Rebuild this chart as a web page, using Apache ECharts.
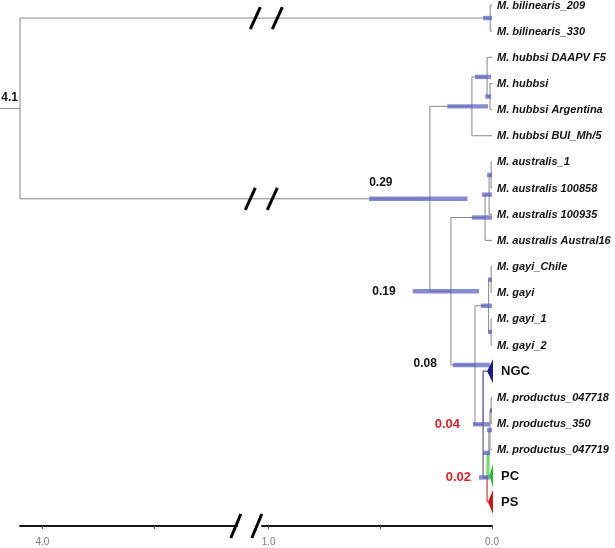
<!DOCTYPE html>
<html><head><meta charset="utf-8">
<script src="https://cdn.jsdelivr.net/npm/echarts@6/dist/echarts.min.js"></script>
<style>html,body{margin:0;padding:0;background:#fff}#c{width:615px;height:548px}</style>
</head><body><div id="c"></div>
<script>
// ---- DATA ----
const tipLabels = ['M. bilinearis_209','M. bilinearis_330','M. hubbsi DAAPV F5','M. hubbsi','M. hubbsi Argentina','M. hubbsi BUI_Mh/5','M. australis_1','M. australis 100858','M. australis 100935','M. australis Austral16','M. gayi_Chile','M. gayi','M. gayi_1','M. gayi_2','NGC','M. productus_047718','M. productus_350','M. productus_047719','PC','PS'];
const collapsedTips = [14, 18, 19];
const collapsedDepths = [0.022, 0.012, 0.018];

const nodeNames    = ['root','Bi','A','H','H1','H2','B','Au','Au1','Au2','C','G','G1','G2','D','E','P3','P2','P1'];
const nodeChildren = [['Bi','A'],[0,1],['H','B'],['H1',5],[2,'H2'],[3,4],['Au','C'],['Au1',9],['Au2',8],[6,7],['G','D'],['G1','G2'],[10,11],[12,13],[14,'E'],['P3',19],['P2',18],['P1',17],[15,16]];
const nodeAges     = [4.1,0.008,0.278,0.09,0.022,0.009,0.184,0.031,0.013,0.004,0.076,0.015,0.004,0.004,0.04,0.022,0.014,0.009,0.004];
const hpdLow       = [null,0,0.11,0.018,0.004,0.004,0.058,0,0,0,0.01,0,0,0,0.01,0.01,0.008,0,0];
const hpdHigh      = [null,0.04,0.55,0.2,0.076,0.03,0.355,0.09,0.045,0.022,0.175,0.05,0.018,0.018,0.085,0.058,0.04,0.022,0.01];
const nodeLabels   = ['4.1','','0.29','','','','0.19','','','','0.08','','','','0.04','0.02','','',''];

const axisTickValues  = [4.0, 3.5, 1.0, 0.5, 0.0];
const axisLabelValues = [4.0, 1.0, 0.0];
const axisBreak = [1.03, 3.13];
const brokenBranches = ['Bi', 'A'];

// ---- STYLE ----
const BRANCH = '#858585';
const cladeColor = {14: '#1b1b8a', 18: '#22c022', 19: '#d41414', P3: '#22c022', E: '#444444'};
const collapsedFill = {14: '#1b1b8a', 18: '#22c022', 19: '#d41414'};
const labelStyle = {
  root: {anchor: 'node', align: 'right', dx: -2, dy: -11, color: '#111', size: 12},
  A: {anchor: 'hi', align: 'left', dx: 0, dy: -16, color: '#111', size: 12},
  B: {anchor: 'hi', align: 'right', dx: -17, dy: 0, color: '#111', size: 12},
  C: {anchor: 'hi', align: 'right', dx: -16, dy: -1, color: '#111', size: 12},
  D: {anchor: 'hi', align: 'right', dx: -13, dy: 0, color: '#e0202a', size: 13},
  E: {anchor: 'hi', align: 'right', dx: -8, dy: 0, color: '#e0202a', size: 13}
};
const FONT = '"Liberation Sans", Arial, sans-serif';

// ---- TREE LAYOUT (data units) ----
const idx = n => nodeNames.indexOf(n);
function isTip(r) { return typeof r === 'number'; }
function ageOf(r) {
  if (isTip(r)) { const k = collapsedTips.indexOf(r); return k >= 0 ? collapsedDepths[k] : 0; }
  return nodeAges[idx(r)];
}
const yCache = {};
function yOf(r) {
  if (isTip(r)) return r;
  if (yCache[r] !== undefined) return yCache[r];
  const ch = nodeChildren[idx(r)];
  const v = ch.reduce((s, c) => s + yOf(c), 0) / ch.length;
  yCache[r] = v; return v;
}
function colorOf(r) { return cladeColor[r] || BRANCH; }

const segData = [], segColors = [];
nodeNames.forEach((n, i) => {
  const a = nodeAges[i], y = yOf(n);
  nodeChildren[i].forEach(c => {
    const yc = yOf(c), col = colorOf(c);
    segData.push([a, y, a, yc]); segColors.push(col);
    segData.push([a, yc, ageOf(c), yc]); segColors.push(col);
  });
});
const hpdData = [];
nodeNames.forEach((n, i) => { if (hpdHigh[i] !== null) hpdData.push([hpdLow[i], hpdHigh[i], yOf(n)]); });
const tipData = tipLabels.map((t, i) => [0, i, i]);
const triData = collapsedTips.map((t, k) => [collapsedDepths[k], t, t]);
const nodeLabelData = [];
nodeNames.forEach((n, i) => { if (nodeLabels[i]) nodeLabelData.push([nodeAges[i], yOf(n), i]); });
const breakData = brokenBranches.map(n => [axisBreak[0], axisBreak[1], yOf(n), 0]);
const Y_MAX = 19.92;
breakData.push([axisBreak[0], axisBreak[1], Y_MAX, 1]);

const chart = echarts.init(document.getElementById('c'));
chart.setOption({
  animation: false,
  backgroundColor: '#fff',
  grid: {left: 20, right: 123, top: 5, bottom: 22},
  xAxis: {
    type: 'value', inverse: true, min: 0, max: 4.1,
    breaks: [{start: axisBreak[0], end: axisBreak[1], gap: 0.113}],
    breakArea: {show: false},
    axisLine: {show: true, onZero: false, lineStyle: {color: '#151515', width: 2}},
    axisTick: {show: true, customValues: axisTickValues, length: 3, lineStyle: {color: '#555', width: 1}},
    axisLabel: {show: true, customValues: axisLabelValues, formatter: v => Number(v).toFixed(1),
      color: '#7a7a7a', fontSize: 10, fontFamily: FONT, margin: 11},
    splitLine: {show: false}
  },
  yAxis: {type: 'value', inverse: true, min: 0, max: Y_MAX, show: false, splitLine: {show: false}},
  series: [
    { type: 'custom', z: 2, data: segData, encode: {x: [0, 2], y: [1, 3]},
      renderItem: (p, api) => {
        const a = api.coord([api.value(0), api.value(1)]);
        const b = api.coord([api.value(2), api.value(3)]);
        return {type: 'line', shape: {x1: a[0], y1: a[1], x2: b[0], y2: b[1]},
          style: {stroke: segColors[p.dataIndex], lineWidth: 1}};
      }},
    { type: 'custom', z: 2, data: [[nodeAges[0], yOf('root')]], encode: {x: 0, y: 1},
      renderItem: (p, api) => {
        const a = api.coord([api.value(0), api.value(1)]);
        return {type: 'line', shape: {x1: a[0] - 20, y1: a[1], x2: a[0], y2: a[1]},
          style: {stroke: BRANCH, lineWidth: 1}};
      }},
    { type: 'custom', z: 3, data: hpdData, encode: {x: [0, 1], y: 2},
      renderItem: (p, api) => {
        const a = api.coord([api.value(1), api.value(2)]);
        const b = api.coord([api.value(0), api.value(2)]);
        return {type: 'rect', shape: {x: a[0], y: a[1] - 2.2, width: b[0] - a[0], height: 4.4},
          style: {fill: 'rgba(88,94,192,0.72)'}};
      }},
    { type: 'custom', z: 4, data: triData, encode: {x: 0, y: 1},
      renderItem: (p, api) => {
        const apex = api.coord([api.value(0), api.value(1)]);
        const t = api.coord([0, api.value(1) - 0.46]);
        const b = api.coord([0, api.value(1) + 0.46]);
        return {type: 'polygon', shape: {points: [apex, [t[0] + 1, t[1]], [b[0] + 1, b[1]]]},
          style: {fill: collapsedFill[api.value(2)]}};
      }},
    { type: 'custom', z: 5, data: tipData, encode: {x: 0, y: 1},
      renderItem: (p, api) => {
        const i = api.value(2);
        const a = api.coord([0, api.value(1)]);
        const coll = collapsedTips.indexOf(i) >= 0;
        return {type: 'text', x: a[0] + (coll ? 9 : 5), y: a[1] + 0.5,
          style: {text: tipLabels[i], fill: '#111', align: 'left', verticalAlign: 'middle',
            font: coll ? 'bold 13px ' + FONT : 'italic bold 11px ' + FONT}};
      }},
    { type: 'custom', z: 5, data: nodeLabelData, encode: {x: 0, y: 1},
      renderItem: (p, api) => {
        const i = api.value(2), n = nodeNames[i], st = labelStyle[n];
        const ax = st.anchor === 'hi' ? hpdHigh[i] : nodeAges[i];
        const a = api.coord([ax, api.value(1)]);
        return {type: 'text', x: a[0] + st.dx, y: a[1] + st.dy,
          style: {text: nodeLabels[i], fill: st.color, align: st.align, verticalAlign: 'middle',
            font: 'bold ' + st.size + 'px ' + FONT}};
      }},
    { type: 'custom', z: 6, data: breakData, encode: {x: [0, 1], y: 2},
      renderItem: (p, api) => {
        const l = api.coord([api.value(1), api.value(2)]);
        const r = api.coord([api.value(0), api.value(2)]);
        const isAxis = api.value(3) === 1;
        const cx = (l[0] + r[0]) / 2 + (isAxis ? -3 : (p.dataIndex === 0 ? 17 : 12));
        const cy = l[1];
        const h = isAxis ? 12 : 11, w = 5, sp = isAxis ? 10.5 : 11;
        const mk = x => ({type: 'line', shape: {x1: x - w, y1: cy + h, x2: x + w, y2: cy - h},
          style: {stroke: '#000', lineWidth: 3}});
        return {type: 'group', children: [mk(cx - sp), mk(cx + sp)]};
      }}
  ]
});
</script></body></html>
